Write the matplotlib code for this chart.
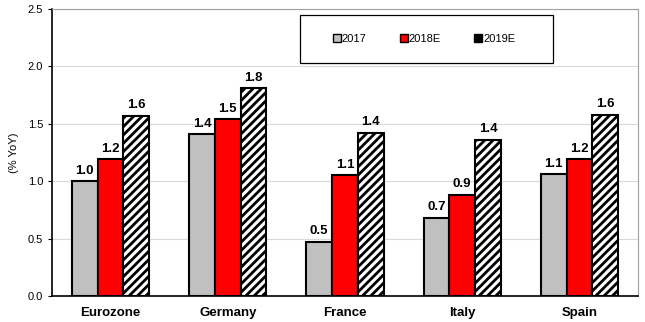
import numpy as np
import matplotlib.pyplot as plt
from matplotlib.patches import Rectangle

# данные
countries = ['Eurozone', 'Germany', 'France', 'Italy', 'Spain']
y2017 = [1.00, 1.41, 0.47, 0.68, 1.06]
y2018 = [1.19, 1.54, 1.05, 0.88, 1.19]
y2019 = [1.57, 1.81, 1.42, 1.36, 1.58]
series_names = ['2017', '2018E', '2019E']

plt.rcParams['font.family'] = ['Liberation Sans', 'DejaVu Sans']
plt.rcParams['hatch.linewidth'] = 2.0

fig = plt.figure(figsize=(6.45, 3.22), dpi=100)
ax = fig.add_axes([52/645, 26/322, 586/645, 287/322])

x = np.arange(len(countries))
w = 0.22
fills = ['#c0c0c0', '#ff0000', 'white']
hatches = [None, None, '////']

for i, (vals, name) in enumerate(zip([y2017, y2018, y2019], series_names)):
    bars = ax.bar(x + (i - 1) * w, vals, w, color=fills[i], edgecolor='black',
                  linewidth=1.5, hatch=hatches[i], label=name, zorder=3)
    for b, v in zip(bars, vals):
        ax.text(b.get_x() + b.get_width() / 2, v + 0.04, f'{v:.1f}',
                ha='center', va='bottom', fontsize=9.5, fontweight='bold')

ax.set_xlim(-0.5, len(countries) - 0.5)
ax.set_ylim(0, 2.5)
ax.set_yticks(np.arange(0, 2.51, 0.5))
ax.set_yticklabels([f'{t:.1f}' for t in np.arange(0, 2.51, 0.5)], fontsize=8)
ax.set_xticks(x)
ax.set_xticklabels(countries, fontsize=9.5, fontweight='bold')
ax.tick_params(axis='x', length=0, pad=8)
ax.tick_params(axis='y', length=3, width=0.8)
ax.grid(axis='y', color='#d9d9d9', linewidth=0.8, zorder=0)
ax.spines['top'].set_color('#a0a0a0')
ax.spines['right'].set_color('#a0a0a0')
ax.spines['left'].set_linewidth(1.2)
ax.spines['bottom'].set_linewidth(1.2)
ax.set_ylabel('(% YoY)', fontsize=8, labelpad=6)

# рамка легенды
ax.add_patch(Rectangle((0.423, 0.812), 0.432, 0.167, transform=ax.transAxes,
                       facecolor='white', edgecolor='black', linewidth=0.9,
                       zorder=4))
leg = ax.legend(loc='center', bbox_to_anchor=(0.635, 0.895), ncol=3,
                fontsize=8, frameon=False, handlelength=0.7, handleheight=0.7,
                handletextpad=0.1, columnspacing=3.0)
leg.set_zorder(5)
for h in leg.legend_handles:
    h.set_hatch(None)
    h.set_linewidth(1.0)
leg.legend_handles[2].set_facecolor('black')

fig.savefig('out.png', dpi=100)
